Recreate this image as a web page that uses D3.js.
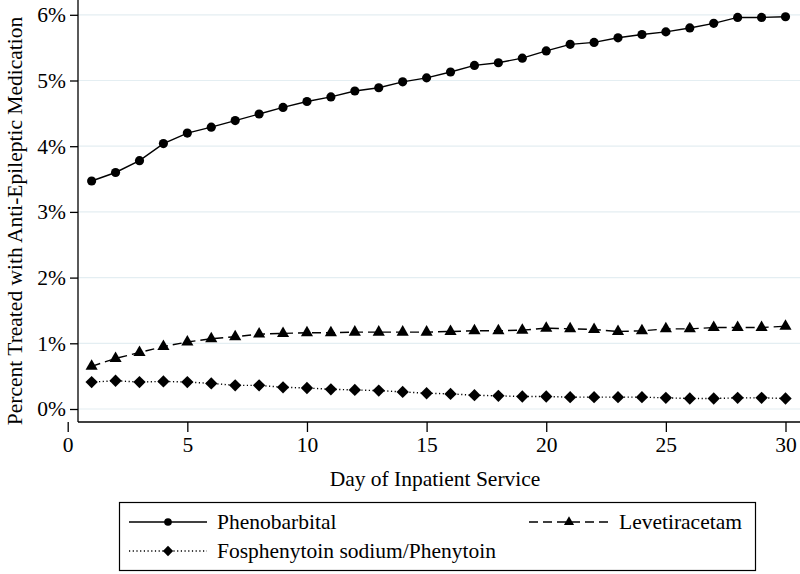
<!DOCTYPE html>
<html>
<head>
<meta charset="utf-8">
<script src="https://cdn.jsdelivr.net/npm/d3@7"></script>
<style>
  html, body { margin: 0; padding: 0; background: #fff; }
  svg { display: block; }
  text { font-family: "Liberation Serif", "Times New Roman", serif; }
</style>
</head>
<body>
<svg id="chart" width="800" height="574"></svg>
<script>
const days = d3.range(1, 31);
const phenobarbital = [3.47, 3.60, 3.78, 4.04, 4.20, 4.29, 4.39, 4.49, 4.59, 4.68,
  4.75, 4.84, 4.89, 4.98, 5.04, 5.13, 5.23, 5.27, 5.34, 5.45,
  5.55, 5.58, 5.65, 5.70, 5.74, 5.80, 5.87, 5.96, 5.96, 5.97];
const levetiracetam = [0.65, 0.77, 0.86, 0.95, 1.02, 1.07, 1.10, 1.14, 1.15, 1.16,
  1.16, 1.17, 1.17, 1.17, 1.17, 1.18, 1.19, 1.19, 1.20, 1.23,
  1.22, 1.21, 1.18, 1.19, 1.22, 1.22, 1.24, 1.24, 1.24, 1.26];
const fosphenytoin = [0.41, 0.43, 0.41, 0.42, 0.41, 0.39, 0.36, 0.36, 0.33, 0.32,
  0.30, 0.29, 0.28, 0.26, 0.24, 0.23, 0.21, 0.20, 0.19, 0.19,
  0.18, 0.18, 0.18, 0.18, 0.17, 0.16, 0.16, 0.17, 0.17, 0.16];
const xTicks = [0, 5, 10, 15, 20, 25, 30];
const yTicks = [0, 1, 2, 3, 4, 5, 6];
const seriesNames = ["Phenobarbital", "Levetiracetam", "Fosphenytoin sodium/Phenytoin"];
const xTitle = "Day of Inpatient Service";
const yTitle = "Percent Treated with Anti-Epileptic Medication";

const FS = 21.5;
const diamond = { draw(ctx, size) { const r = Math.sqrt(size / 2); ctx.moveTo(0, -r); ctx.lineTo(r, 0); ctx.lineTo(0, r); ctx.lineTo(-r, 0); ctx.closePath(); } };

const series = [
  { name: seriesNames[0], values: phenobarbital, dash: null, symbol: d3.symbolCircle, size: 66 },
  { name: seriesNames[1], values: levetiracetam, dash: "9,5", symbol: d3.symbolTriangle, size: 64 },
  { name: seriesNames[2], values: fosphenytoin, dash: "1.2,2.5", symbol: diamond, size: 76 }
];

const svg = d3.select("#chart");
const axisLeftX = 78, axisBottomY = 422;

const x = d3.scaleLinear().domain([0, 30]).range([67.7, 785.5]);
const y = d3.scaleLinear().domain([0, 6]).range([409, 14.8]);

// gridlines
svg.append("g").selectAll("line").data(yTicks).join("line")
  .attr("x1", axisLeftX).attr("x2", 800)
  .attr("y1", d => y(d)).attr("y2", d => y(d))
  .attr("stroke", "#e4eef2").attr("stroke-width", 1.2);

// axes lines
svg.append("line").attr("x1", axisLeftX).attr("x2", axisLeftX).attr("y1", 0).attr("y2", axisBottomY)
  .attr("stroke", "#000").attr("stroke-width", 1.3);
svg.append("line").attr("x1", axisLeftX).attr("x2", 800).attr("y1", axisBottomY).attr("y2", axisBottomY)
  .attr("stroke", "#000").attr("stroke-width", 1.3);

// x axis
const gx = svg.append("g").attr("transform", `translate(0,${axisBottomY})`)
  .call(d3.axisBottom(x).tickValues(xTicks).tickSize(10).tickPadding(5).tickFormat(d3.format("d")));
gx.select(".domain").remove();
gx.selectAll(".tick line").attr("stroke", "#000").attr("stroke-width", 1.3);
gx.selectAll(".tick text").attr("font-size", FS).attr("fill", "#000")
  .attr("font-family", '"Liberation Serif", "Times New Roman", serif');

// y axis
const gy = svg.append("g").attr("transform", `translate(${axisLeftX},0)`)
  .call(d3.axisLeft(y).tickValues(yTicks).tickSize(8).tickPadding(4).tickFormat(d => d + "%"));
gy.select(".domain").remove();
gy.selectAll(".tick line").attr("stroke", "#000").attr("stroke-width", 1.3);
gy.selectAll(".tick text").attr("font-size", FS).attr("fill", "#000")
  .attr("font-family", '"Liberation Serif", "Times New Roman", serif');

// titles
svg.append("text").attr("x", (axisLeftX + 800) / 2 - 4).attr("y", 486)
  .attr("text-anchor", "middle").attr("font-size", FS).text(xTitle);
svg.append("text").attr("transform", `translate(22,221) rotate(-90)`)
  .attr("text-anchor", "middle").attr("font-size", FS).text(yTitle);

// series lines + markers
const line = d3.line().x((d, i) => x(days[i])).y(d => y(d));
series.forEach(s => {
  svg.append("path").datum(s.values)
    .attr("d", line).attr("fill", "none").attr("stroke", "#000")
    .attr("stroke-width", 1.4)
    .attr("stroke-dasharray", s.dash);
  svg.append("g").selectAll("path").data(s.values).join("path")
    .attr("transform", (d, i) => `translate(${x(days[i])},${y(d)})`)
    .attr("d", d3.symbol().type(s.symbol).size(s.size)())
    .attr("fill", "#000");
});

// legend
const lg = svg.append("g");
lg.append("rect").attr("x", 119.5).attr("y", 502.5).attr("width", 636).attr("height", 68)
  .attr("fill", "#fff").attr("stroke", "#000").attr("stroke-width", 1.2);
const legendItems = [
  { s: series[0], x1: 129, x2: 207, row: 522 },
  { s: series[1], x1: 529, x2: 609, row: 522 },
  { s: series[2], x1: 129, x2: 207, row: 551 }
];
legendItems.forEach(it => {
  lg.append("line").attr("x1", it.x1).attr("x2", it.x2).attr("y1", it.row).attr("y2", it.row)
    .attr("stroke", "#000").attr("stroke-width", 1.4)
    .attr("stroke-dasharray", it.s.dash);
  lg.append("path").attr("transform", `translate(${(it.x1 + it.x2) / 2},${it.row})`)
    .attr("d", d3.symbol().type(it.s.symbol).size(it.s.size * 0.7)()).attr("fill", "#000");
  lg.append("text").attr("x", it.x2 + 10).attr("y", it.row + 7)
    .attr("font-size", FS).text(it.s.name);
});
</script>
</body>
</html>
